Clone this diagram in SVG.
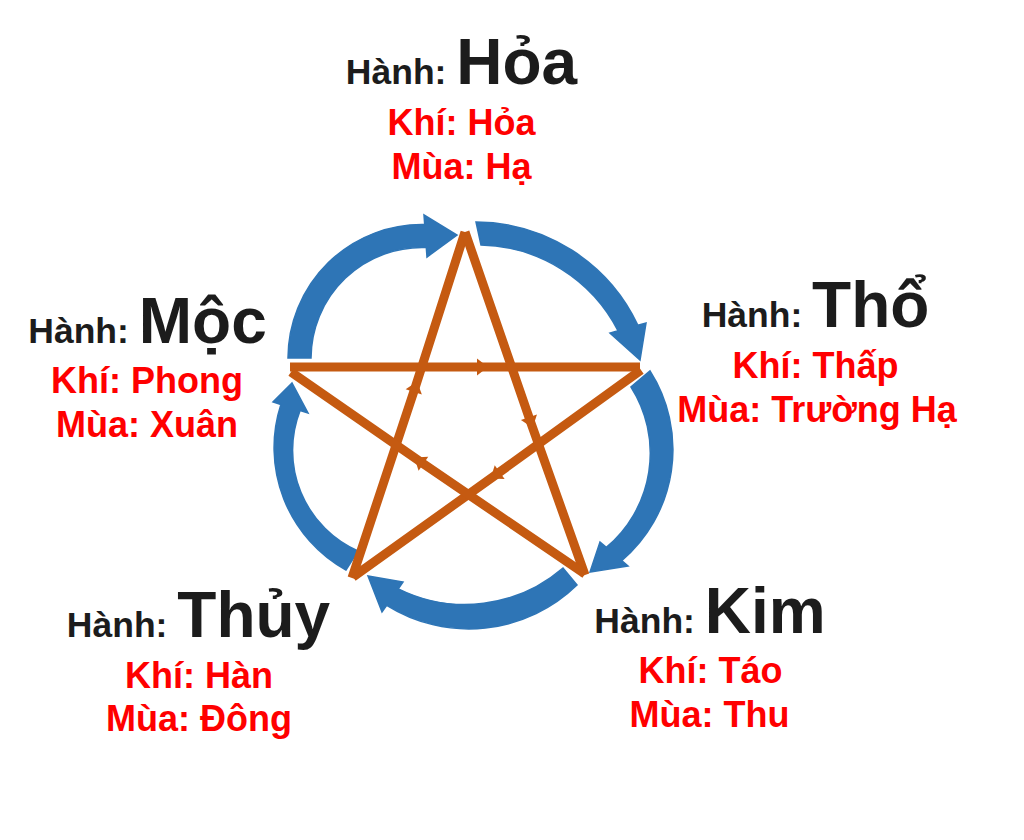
<svg xmlns="http://www.w3.org/2000/svg" width="1024" height="840" viewBox="0 0 1024 840">
  <defs>
    <style>
      .blk { font-family: "Liberation Sans", Arial, sans-serif; font-weight: bold; fill: #1c1c1c; text-anchor: middle; }
      .s { font-size: 35.5px; }
      .b { font-size: 64px; }
      .red { font-family: "Liberation Sans", Arial, sans-serif; font-weight: bold; font-size: 36px; fill: #FF0000; text-anchor: middle; }
      .arc { fill: #2E75B6; stroke: #2E75B6; stroke-width: 1.5; stroke-linejoin: miter; }
      .star { fill: none; stroke: #C55A11; stroke-width: 9; stroke-linecap: butt; marker-mid: url(#ah); }
    </style>
    <marker id="ah" markerUnits="userSpaceOnUse" markerWidth="24" markerHeight="24" viewBox="-12 -12 24 24" refX="0" refY="0" orient="auto" overflow="visible">
      <path d="M-5,-8.5 L6,0 L-5,8.5 Z" fill="#C55A11"/>
    </marker>
  </defs>
  <rect width="1024" height="840" fill="#ffffff"/>

  <g id="cycle">
    <path class="arc" d="M288,358 A134,134 0 0 1 424.7,224.5 L424,215 L457,235 L427,257 L426.3,247.5 A111,111 0 0 0 311,358 Z"/>
    <path class="arc" d="M476,222 A180,180 0 0 1 637.9,325.3 L646,323 L640,360 L610,333 L618.1,330.8 A158,158 0 0 0 481,245 Z"/>
    <path class="arc" d="M650,371 A146,146 0 0 1 621.7,560.6 L628,566 L590,572 L600,542 L606.3,547.4 A123,123 0 0 0 631,387 Z"/>
    <path class="arc" d="M577,585 A155,155 0 0 1 386.7,605.3 L382,612 L368,576 L403,582 L398.3,588.8 A150,150 0 0 0 563,568 Z"/>
    <path class="arc" d="M346,570 A140,140 0 0 1 280.9,404.5 L273,402 L292,383 L308,413 L300.1,410.5 A110,110 0 0 0 358,551 Z"/>
  </g>

  <g id="connectors">
    <polyline class="star" points="290,367 482,367 640,367"/>
    <polyline class="star" points="641,370 495.6,475 353,577"/>
    <polyline class="star" points="352,578 415.3,387.1 465,232"/>
    <polyline class="star" points="465,232 530.6,422 585,575"/>
    <polyline class="star" points="585,574 419.3,461 291,372"/>
  </g>

  <g id="hoa">
    <text class="blk" x="461.5" y="84"><tspan class="s">Hành: </tspan><tspan class="b">Hỏa</tspan></text>
    <text class="red" x="461.5" y="135">Khí: Hỏa</text>
    <text class="red" x="461.5" y="179">Mùa: Hạ</text>
  </g>
  <g id="tho">
    <text class="blk" x="815.5" y="327"><tspan class="s">Hành: </tspan><tspan class="b">Thổ</tspan></text>
    <text class="red" x="815.5" y="378">Khí: Thấp</text>
    <text class="red" x="817" y="422">Mùa: Trường Hạ</text>
  </g>
  <g id="moc">
    <text class="blk" x="147.5" y="343"><tspan class="s">Hành: </tspan><tspan class="b">Mộc</tspan></text>
    <text class="red" x="147" y="393">Khí: Phong</text>
    <text class="red" x="147" y="437">Mùa: Xuân</text>
  </g>
  <g id="thuy">
    <text class="blk" x="198.5" y="637"><tspan class="s">Hành: </tspan><tspan class="b">Thủy</tspan></text>
    <text class="red" x="199" y="688">Khí: Hàn</text>
    <text class="red" x="199" y="731">Mùa: Đông</text>
  </g>
  <g id="kim">
    <text class="blk" x="710" y="633"><tspan class="s">Hành: </tspan><tspan class="b">Kim</tspan></text>
    <text class="red" x="710.5" y="683">Khí: Táo</text>
    <text class="red" x="709.5" y="727">Mùa: Thu</text>
  </g>
</svg>
